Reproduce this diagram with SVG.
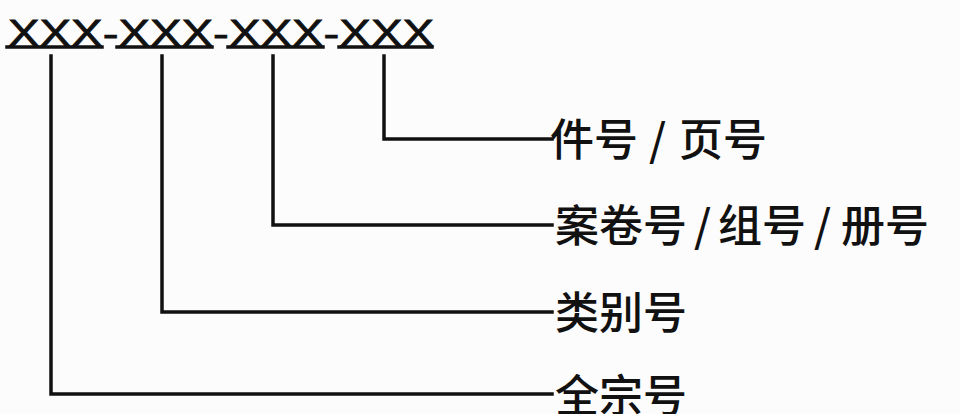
<svg xmlns="http://www.w3.org/2000/svg" width="960" height="414" viewBox="0 0 960 414">
<style>
.code{font-family:"Liberation Sans",Arial,sans-serif;font-size:37px;fill:#111;stroke:#111;stroke-width:0.8}
.lbl{font-family:"Noto Sans CJK SC","Noto Sans",sans-serif;font-size:44px;font-weight:500;fill:#111}
.ln{stroke:#111;stroke-width:3.5;fill:none;stroke-linecap:square}
</style>
<rect width="960" height="414" fill="#fcfcfc"/>
<g id="code">
<text class="code" x="8" y="46" textLength="426" lengthAdjust="spacingAndGlyphs">XXX-XXX-XXX-XXX</text>
<line class="ln" x1="7" y1="47" x2="102" y2="47"/>
<line class="ln" x1="117" y1="47" x2="212" y2="47"/>
<line class="ln" x1="228" y1="47" x2="323" y2="47"/>
<line class="ln" x1="339" y1="47" x2="432" y2="47"/>
</g>
<g id="connectors">
<polyline class="ln" points="384,56 384,139 552,139"/>
<polyline class="ln" points="273,56 273,225 552,225"/>
<polyline class="ln" points="162,56 162,312 552,312"/>
<polyline class="ln" points="51,56 51,394 552,394"/>
</g>
<g id="n1"><text class="lbl" y="156"><tspan x="550">件号</tspan><tspan x="649">/</tspan><tspan x="679">页号</tspan></text></g>
<g id="n2"><text class="lbl" y="242"><tspan x="555">案卷号</tspan><tspan x="694">/</tspan><tspan x="718">组号</tspan><tspan x="814">/</tspan><tspan x="841">册号</tspan></text></g>
<g id="n3"><text class="lbl" y="329"><tspan x="555">类别号</tspan></text></g>
<g id="n4"><text class="lbl" y="412"><tspan x="555">全宗号</tspan></text></g>
</svg>
